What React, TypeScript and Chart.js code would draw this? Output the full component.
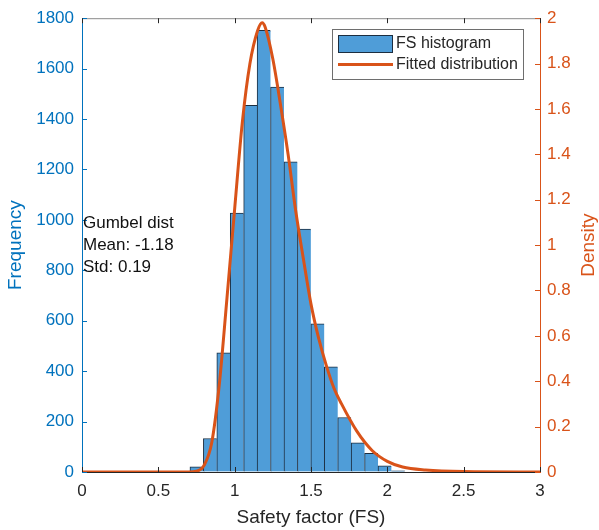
import React, { useEffect, useRef } from "react";
import { Chart, registerables } from "chart.js";

Chart.register(...registerables);

// Histogram bins (centres) and counts
const binCenters = [0.751, 0.839, 0.927, 1.015, 1.103, 1.191, 1.279, 1.367, 1.455, 1.543, 1.631, 1.719, 1.807, 1.895, 1.983, 2.071];
const binCounts = [21, 133, 473, 1027, 1454, 1752, 1527, 1230, 964, 588, 417, 216, 116, 74, 24, 5];

// Fitted density curve
const densityX = [0, 0.5, 0.7, 0.75, 0.8, 0.85, 0.9, 0.95, 1.0, 1.05, 1.1, 1.15, 1.18, 1.2, 1.25, 1.3, 1.35, 1.4, 1.45, 1.5, 1.55, 1.6, 1.65, 1.7, 1.8, 1.9, 2.0, 2.1, 2.25, 2.5, 3.0];
const densityY = [0, 0, 0, 0.003, 0.03, 0.13, 0.39, 0.77, 1.16, 1.54, 1.8, 1.945, 1.98, 1.96, 1.82, 1.62, 1.4, 1.15, 0.94, 0.74, 0.59, 0.47, 0.37, 0.3, 0.18, 0.095, 0.047, 0.022, 0.009, 0.002, 0];

const xTickStep = 0.5;
const leftTickStep = 200;
const rightTickStep = 0.2;

const statsLines = ["Gumbel dist", "Mean: -1.18", "Std: 0.19"];
const legendLabels = ["FS histogram", "Fitted distribution"];
const axisTitles = { x: "Safety factor (FS)", left: "Frequency", right: "Density" };

const FONT = '"Liberation Sans", Arial, Helvetica, sans-serif';
const BLUE = "#0072BD";
const ORANGE = "#D95319";
const BAR_FILL = "#4f9dd8";
const BAR_EDGE = "#1c2e40";
const DARK = "#262626";

const overlayPlugin = {
  id: "overlay",
  afterDraw(chart: any) {
    const { ctx, chartArea } = chart;
    const { left, right, top, bottom } = chartArea;
    const sx = chart.scales.x;
    const sy = chart.scales.y;
    const sy1 = chart.scales.y1;
    ctx.save();

    // top box line
    ctx.strokeStyle = "#8a8a8a";
    ctx.lineWidth = 1;
    ctx.beginPath();
    ctx.moveTo(left, top + 0.5);
    ctx.lineTo(right, top + 0.5);
    ctx.stroke();

    // inward ticks
    const tl = 5;
    ctx.strokeStyle = BLUE;
    sy.ticks.forEach((t: any) => {
      const p = Math.round(sy.getPixelForValue(t.value)) + 0.5;
      ctx.beginPath();
      ctx.moveTo(left, p);
      ctx.lineTo(left + tl, p);
      ctx.stroke();
    });
    ctx.strokeStyle = ORANGE;
    sy1.ticks.forEach((t: any) => {
      const p = Math.round(sy1.getPixelForValue(t.value)) + 0.5;
      ctx.beginPath();
      ctx.moveTo(right, p);
      ctx.lineTo(right - tl, p);
      ctx.stroke();
    });
    ctx.strokeStyle = DARK;
    sx.ticks.forEach((t: any) => {
      const p = Math.round(sx.getPixelForValue(t.value)) + 0.5;
      ctx.beginPath();
      ctx.moveTo(p, bottom);
      ctx.lineTo(p, bottom - tl);
      ctx.moveTo(p, top);
      ctx.lineTo(p, top + tl);
      ctx.stroke();
    });

    // axis titles
    ctx.textAlign = "center";
    ctx.textBaseline = "middle";
    ctx.font = `19px ${FONT}`;
    const midY = (top + bottom) / 2;
    ctx.fillStyle = BLUE;
    ctx.save();
    ctx.translate(16, midY);
    ctx.rotate(-Math.PI / 2);
    ctx.fillText(axisTitles.left, 0, 0);
    ctx.restore();
    ctx.fillStyle = ORANGE;
    ctx.save();
    ctx.translate(589, midY);
    ctx.rotate(-Math.PI / 2);
    ctx.fillText(axisTitles.right, 0, 0);
    ctx.restore();
    ctx.fillStyle = DARK;
    ctx.fillText(axisTitles.x, (left + right) / 2, 518);

    // stats text
    ctx.textAlign = "left";
    ctx.fillStyle = "#111111";
    ctx.font = `17px ${FONT}`;
    statsLines.forEach((s, i) => ctx.fillText(s, left + 1, 223 + i * 22));

    // legend
    const lx = 332.5, ly = 29.5, lw = 191, lh = 50;
    ctx.fillStyle = "#ffffff";
    ctx.fillRect(lx, ly, lw, lh);
    ctx.strokeStyle = "#6e6e6e";
    ctx.lineWidth = 1;
    ctx.strokeRect(lx, ly, lw, lh);
    ctx.fillStyle = BAR_FILL;
    ctx.fillRect(338.5, 35.5, 54, 17);
    ctx.strokeStyle = BAR_EDGE;
    ctx.strokeRect(338.5, 35.5, 54, 17);
    ctx.strokeStyle = ORANGE;
    ctx.lineWidth = 3;
    ctx.beginPath();
    ctx.moveTo(338, 64.5);
    ctx.lineTo(393, 64.5);
    ctx.stroke();
    ctx.fillStyle = DARK;
    ctx.font = `16px ${FONT}`;
    ctx.fillText(legendLabels[0], 396, 44);
    ctx.fillText(legendLabels[1], 396, 65);

    ctx.restore();
  },
};

export default function App() {
  const canvasRef = useRef<HTMLCanvasElement | null>(null);

  useEffect(() => {
    if (!canvasRef.current) return;
    const tickFont = { family: FONT, size: 17 };
    const chart = new Chart(canvasRef.current, {
      type: "bar",
      data: {
        datasets: [
          {
            type: "line",
            label: legendLabels[1],
            data: densityX.map((x, i) => ({ x, y: densityY[i] })),
            yAxisID: "y1",
            borderColor: ORANGE,
            borderWidth: 3,
            pointRadius: 0,
            cubicInterpolationMode: "monotone",
            fill: false,
            order: 0,
          } as any,
          {
            type: "bar",
            label: legendLabels[0],
            data: binCenters.map((x, i) => ({ x, y: binCounts[i] })),
            yAxisID: "y",
            backgroundColor: BAR_FILL,
            borderColor: BAR_EDGE,
            borderWidth: (c: any) =>
              c.dataIndex === binCenters.length - 1
                ? { left: 1, top: 1, right: 1, bottom: 0 }
                : { left: 1, top: 1, right: 0, bottom: 0 },
            borderSkipped: false,
            barPercentage: 1,
            categoryPercentage: 1,
            order: 1,
          } as any,
        ],
      },
      options: {
        animation: false,
        responsive: false,
        maintainAspectRatio: false,
        layout: { padding: { top: 17, left: 0, right: 0, bottom: 0 } },
        plugins: { legend: { display: false }, tooltip: { enabled: false } },
        scales: {
          x: {
            type: "linear",
            position: "bottom",
            min: 0,
            max: 3,
            offset: false,
            ticks: {
              stepSize: xTickStep,
              font: tickFont,
              color: DARK,
              padding: 9,
              maxRotation: 0,
              callback: (v: any) => String(Number(v)),
            },
            grid: { display: true, drawOnChartArea: false, drawTicks: false, offset: false },
            border: { display: true, color: DARK, width: 1 },
            afterFit: (s: any) => {
              s.height = 58;
            },
          },
          y: {
            type: "linear",
            position: "left",
            min: 0,
            max: 1800,
            ticks: {
              stepSize: leftTickStep,
              font: tickFont,
              color: BLUE,
              padding: 8,
              callback: (v: any) => String(Number(v)),
            },
            grid: { display: true, drawOnChartArea: false, drawTicks: false },
            border: { display: true, color: BLUE, width: 1 },
            afterFit: (s: any) => {
              s.width = 82;
            },
          },
          y1: {
            type: "linear",
            position: "right",
            min: 0,
            max: 2,
            ticks: {
              stepSize: rightTickStep,
              font: tickFont,
              color: ORANGE,
              padding: 7,
              callback: (v: any) => String(Number(Number(v).toFixed(1))),
            },
            grid: { display: true, drawOnChartArea: false, drawTicks: false },
            border: { display: true, color: ORANGE, width: 1 },
            afterFit: (s: any) => {
              s.width = 59;
            },
          },
        },
      } as any,
      plugins: [overlayPlugin],
    });
    return () => chart.destroy();
  }, []);

  return (
    <div style={{ position: "fixed", left: 0, top: 0, width: 599, height: 530, background: "#fff" }}>
      <canvas ref={canvasRef} width={599} height={530} style={{ display: "block" }} />
    </div>
  );
}
